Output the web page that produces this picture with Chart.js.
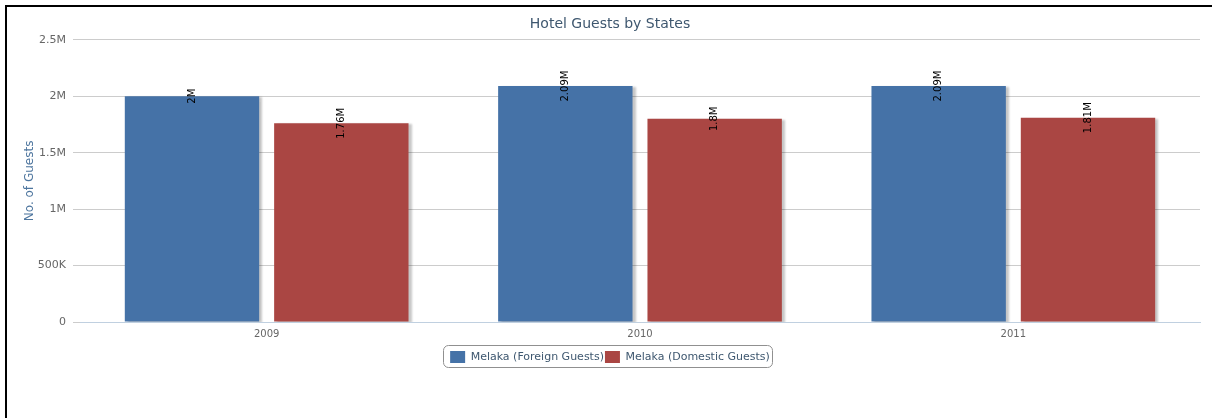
<!DOCTYPE html>
<html>
<head>
<meta charset="utf-8">
<script src="https://cdn.jsdelivr.net/npm/chart.js@4.4.0/dist/chart.umd.min.js"></script>
<style>
    html, body { margin: 0; padding: 0; background: #fff; }
    #wrap { position: absolute; left: 0; top: 0; width: 1212px; height: 418px; }
    #frame { position: absolute; left: 5px; top: 5px; right: 0; bottom: 0;
             border-left: 2px solid #000; border-top: 2px solid #000; pointer-events: none; }
</style>
</head>
<body>
<div id="wrap">
    <canvas id="guests-chart" width="1212" height="418"></canvas>
    <div id="frame"></div>
</div>
<script>
// datos
const years = ['2009', '2010', '2011'];
const foreignGuests = [2000000, 2090000, 2090000];
const domesticGuests = [1760000, 1800000, 1810000];
const yTickLabels = ['0', '500K', '1M', '1.5M', '2M', '2.5M'];
const seriesNames = ['Melaka (Foreign Guests)', 'Melaka (Domestic Guests)'];

const FONT = "'DejaVu Sans', sans-serif";

function etiquetaMillones(v) {
    return (Math.round(v / 10000) / 100) + 'M';
}

// sombra gris a la derecha de las barras
const sombraBarras = {
    id: 'sombraBarras',
    beforeDatasetsDraw(chart) {
        const ctx = chart.ctx;
        ctx.save();
        ctx.shadowColor = 'rgba(0, 0, 0, 0.22)';
        ctx.shadowOffsetX = 3;
        ctx.shadowOffsetY = 1;
        ctx.shadowBlur = 2;
    },
    afterDatasetsDraw(chart) {
        chart.ctx.restore();
    }
};

// etiquetas rotadas encima de cada barra
const etiquetasBarras = {
    id: 'etiquetasBarras',
    afterDraw(chart) {
        const ctx = chart.ctx;
        ctx.save();
        ctx.font = '10px ' + FONT;
        ctx.fillStyle = '#000';
        ctx.textAlign = 'center';
        ctx.textBaseline = 'middle';
        chart.data.datasets.forEach((ds, i) => {
            chart.getDatasetMeta(i).data.forEach((bar, j) => {
                ctx.save();
                ctx.translate(bar.x, bar.y);
                ctx.rotate(-Math.PI / 2);
                ctx.fillText(etiquetaMillones(ds.data[j]), 0, 0);
                ctx.restore();
            });
        });
        ctx.restore();
    }
};

// borde redondeado alrededor de la leyenda
const bordeLeyenda = {
    id: 'bordeLeyenda',
    afterDraw(chart) {
        const boxes = chart.legend.legendHitBoxes;
        if (!boxes || !boxes.length) return;
        const left = Math.min(...boxes.map(b => b.left)) - 7;
        const right = Math.max(...boxes.map(b => b.left + b.width)) + 2;
        const top = Math.min(...boxes.map(b => b.top)) - 6;
        const ctx = chart.ctx;
        ctx.save();
        ctx.strokeStyle = '#909090';
        ctx.lineWidth = 1;
        ctx.beginPath();
        ctx.roundRect(Math.round(left) + 0.5, Math.round(top) + 0.5, Math.round(right - left), 22, 5);
        ctx.stroke();
        ctx.restore();
    }
};

const ctx = document.getElementById('guests-chart').getContext('2d');
const chart = new Chart(ctx, {
    type: 'bar',
    data: {
        labels: years,
        datasets: [
            {
                label: seriesNames[0],
                data: foreignGuests,
                backgroundColor: '#4572A7',
                borderWidth: 0,
            },
            {
                label: seriesNames[1],
                data: domesticGuests,
                backgroundColor: '#AA4643',
                borderWidth: 0,
            },
        ],
    },
    options: {
        responsive: false,
        animation: false,
        layout: {
            padding: {left: 20, right: 12, top: 0, bottom: 45}
        },
        categoryPercentage: 0.8,
        barPercentage: 0.9,
        plugins: {
            title: {
                display: true,
                text: 'Hotel Guests by States',
                color: '#3E576F',
                font: {family: FONT, size: 14, weight: 'normal'},
                padding: {top: 16, bottom: 7},
            },
            legend: {
                display: true,
                position: 'bottom',
                labels: {
                    color: '#3E576F',
                    font: {family: FONT, size: 11},
                    boxWidth: 15,
                    boxHeight: 12,
                    padding: 1,
                },
            },
            tooltip: {enabled: false},
        },
        scales: {
            x: {
                grid: {display: false, drawTicks: false},
                border: {display: true, color: '#C0D0E0'},
                ticks: {color: '#666', font: {family: FONT, size: 10}, padding: 6},
                afterFit(scale) { scale.height = 28; },
            },
            y: {
                min: 0,
                max: 2500000,
                grid: {color: '#CCCCCC', tickLength: 7},
                border: {display: false},
                ticks: {
                    stepSize: 500000,
                    color: '#666',
                    font: {family: FONT, size: 11},
                    padding: 7,
                    callback: (value) => yTickLabels[Math.round(value / 500000)],
                },
                title: {
                    display: true,
                    text: 'No. of Guests',
                    color: '#4D759E',
                    font: {family: FONT, size: 12, weight: 'normal'},
                    padding: {top: 3, bottom: 0},
                },
                afterFit(scale) { scale.width = 60; },
            },
        },
    },
    plugins: [sombraBarras, etiquetasBarras, bordeLeyenda],
});
</script>
</body>
</html>
